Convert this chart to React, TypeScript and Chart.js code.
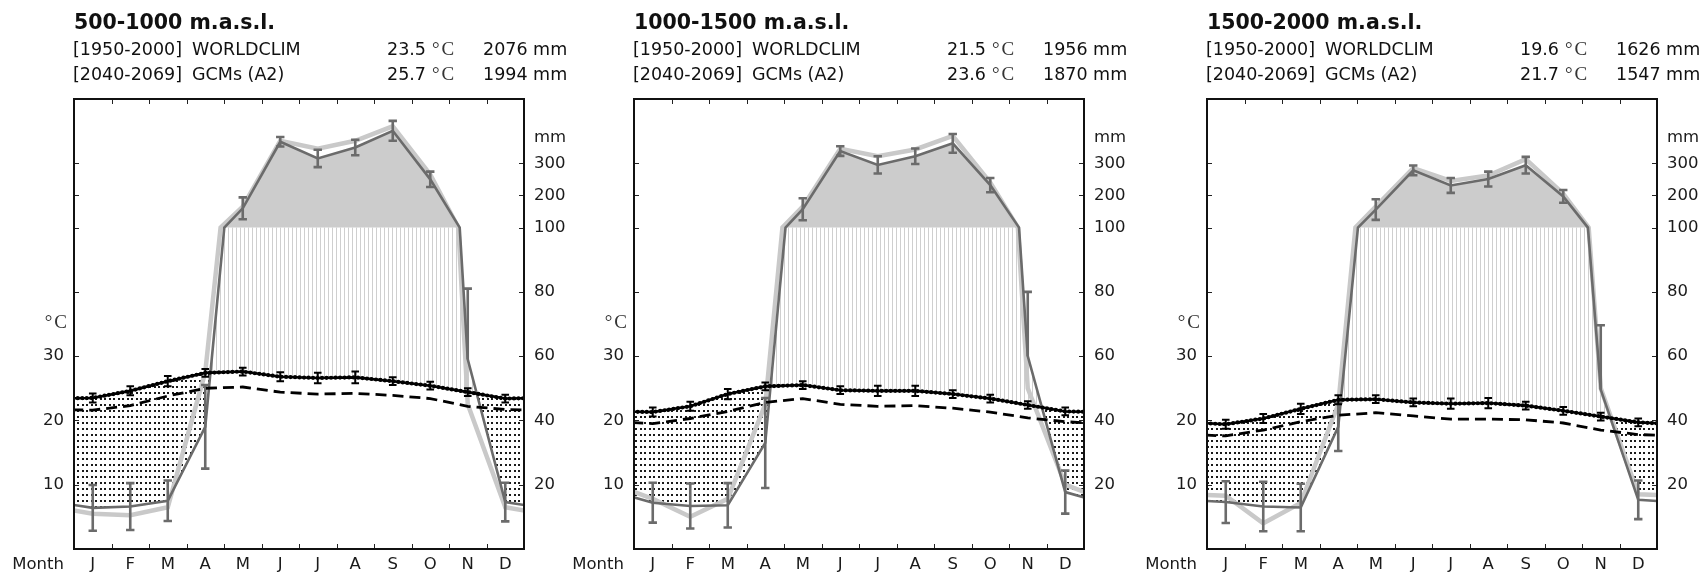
import { useEffect, useRef } from 'react';
import { Chart, registerables } from 'chart.js';

Chart.register(...registerables);

// ---------- text ----------
const MONTH_LABELS = ['J', 'F', 'M', 'A', 'M', 'J', 'J', 'A', 'S', 'O', 'N', 'D'];
const ELEVATION_TITLES = ['500-1000 m.a.s.l.', '1000-1500 m.a.s.l.', '1500-2000 m.a.s.l.'];
const BASE_PERIOD = '[1950-2000]';
const BASE_SOURCE = 'WORLDCLIM';
const FUTURE_PERIOD = '[2040-2069]';
const FUTURE_SOURCE = 'GCMs (A2)';
const BASE_MEAN_TEMP = ['23.5', '21.5', '19.6'];
const FUTURE_MEAN_TEMP = ['25.7', '23.6', '21.7'];
const BASE_ANNUAL_PREC = ['2076 mm', '1956 mm', '1626 mm'];
const FUTURE_ANNUAL_PREC = ['1994 mm', '1870 mm', '1547 mm'];

// ---------- axis ticks ----------
const TEMP_TICKS = [10, 20, 30];
const PREC_TICKS_MM = [20, 40, 60, 80, 100, 200, 300];

// ---------- 500-1000 m ----------
const TEMP_BASE_500 = [21.6, 22.3, 23.8, 25.0, 25.2, 24.4, 24.1, 24.2, 23.9, 23.4, 22.2, 21.7];
const TEMP_GCM_500 = [23.5, 24.6, 26.1, 27.4, 27.6, 26.8, 26.6, 26.7, 26.1, 25.4, 24.4, 23.4];
const TEMP_GCM_SD_500 = [0.7, 0.7, 0.8, 0.6, 0.6, 0.7, 0.8, 0.9, 0.6, 0.6, 0.6, 0.6];
const PREC_BASE_500 = [11, 10.5, 13, 55, 165, 370, 345, 370, 415, 265, 45, 13];
const PREC_GCM_500 = [12.8, 13.2, 15, 38, 160, 367, 315, 349, 401, 250, 59, 14.6];
const PREC_GCM_ERR_UP_500 = [7.1, 7.3, 6.3, 13, 34, 15, 27, 24, 31, 24, 22, 6];
const PREC_GCM_ERR_DOWN_500 = [7.1, 7.3, 6.3, 13, 34, 15, 27, 24, 31, 24, 0, 6];

// ---------- 1000-1500 m ----------
const TEMP_BASE_1000 = [19.5, 20.3, 21.4, 22.8, 23.4, 22.5, 22.2, 22.3, 21.9, 21.3, 20.4, 19.8];
const TEMP_GCM_1000 = [21.3, 22.2, 24.1, 25.3, 25.5, 24.7, 24.6, 24.6, 24.1, 23.4, 22.4, 21.4];
const TEMP_GCM_SD_1000 = [0.7, 0.7, 0.8, 0.6, 0.6, 0.6, 0.8, 0.8, 0.6, 0.6, 0.6, 0.6];
const PREC_BASE_1000 = [15.6, 10, 15.6, 45, 165, 345, 322, 343, 385, 240, 50, 20];
const PREC_GCM_1000 = [14.4, 13.4, 13.6, 33, 157, 338, 295, 322, 362, 232, 60, 17.7];
const PREC_GCM_ERR_UP_1000 = [6.2, 7, 6.9, 14, 34, 15, 27, 24, 29, 22, 20, 6.7];
const PREC_GCM_ERR_DOWN_1000 = [6.2, 7, 6.9, 14, 34, 15, 27, 24, 29, 22, 0, 6.7];

// ---------- 1500-2000 m ----------
const TEMP_BASE_1500 = [17.6, 18.5, 19.8, 20.8, 21.2, 20.7, 20.2, 20.2, 20.1, 19.6, 18.5, 17.8];
const TEMP_GCM_1500 = [19.4, 20.3, 21.8, 23.2, 23.3, 22.8, 22.6, 22.7, 22.3, 21.5, 20.6, 19.7];
const TEMP_GCM_SD_1500 = [0.7, 0.7, 0.8, 0.7, 0.6, 0.6, 0.8, 0.8, 0.6, 0.6, 0.6, 0.6];
const PREC_BASE_1500 = [16.6, 8, 14.3, 45, 165, 285, 245, 262, 313, 205, 50, 17];
const PREC_GCM_1500 = [14.6, 13.2, 12.9, 38, 156, 278, 231, 251, 294, 197, 49.6, 15.3];
const PREC_GCM_ERR_UP_1500 = [6.5, 7.7, 7.4, 7.5, 32, 15, 23, 23, 26, 20, 20, 6];
const PREC_GCM_ERR_DOWN_1500 = [6.5, 7.7, 7.4, 7.5, 32, 15, 23, 23, 26, 20, 0, 6];

// ---------- layout ----------
const W = 1701;
const H = 574;
const PANEL_LEFT = [74, 634, 1207];
const PLOT_TOP = 99;
const PLOT_SIZE = 450;

type Pt = { x: number; y: number };

interface Panel {
  idx: number;
  tempBase: number[];
  tempGcm: number[];
  tempSd: number[];
  precBase: number[];
  precGcm: number[];
  precUp: number[];
  precDown: number[];
}

const PANELS: Panel[] = [
  { idx: 0, tempBase: TEMP_BASE_500, tempGcm: TEMP_GCM_500, tempSd: TEMP_GCM_SD_500, precBase: PREC_BASE_500, precGcm: PREC_GCM_500, precUp: PREC_GCM_ERR_UP_500, precDown: PREC_GCM_ERR_DOWN_500 },
  { idx: 1, tempBase: TEMP_BASE_1000, tempGcm: TEMP_GCM_1000, tempSd: TEMP_GCM_SD_1000, precBase: PREC_BASE_1000, precGcm: PREC_GCM_1000, precUp: PREC_GCM_ERR_UP_1000, precDown: PREC_GCM_ERR_DOWN_1000 },
  { idx: 2, tempBase: TEMP_BASE_1500, tempGcm: TEMP_GCM_1500, tempSd: TEMP_GCM_SD_1500, precBase: PREC_BASE_1500, precGcm: PREC_GCM_1500, precUp: PREC_GCM_ERR_UP_1500, precDown: PREC_GCM_ERR_DOWN_1500 },
];

// Walter-Lieth scale: 10 degC = 20 mm, above 100 mm the scale is compressed 1:10
function precipToUnits(mm: number): number {
  return mm <= 100 ? mm / 2 : 50 + (mm - 100) / 20;
}

function wrapMonths(values: number[]): Pt[] {
  const pts: Pt[] = [{ x: -0.5, y: values[11] }];
  values.forEach((v, i) => pts.push({ x: i + 0.5, y: v }));
  pts.push({ x: 12.5, y: values[0] });
  return pts;
}

function precipLine(mm: number[]): Pt[] {
  const raw = wrapMonths(mm);
  const out: Pt[] = [];
  raw.forEach((p, i) => {
    if (i > 0) {
      const a = raw[i - 1];
      if ((a.y - 100) * (p.y - 100) < 0) {
        const t = (100 - a.y) / (p.y - a.y);
        out.push({ x: a.x + t * (p.x - a.x), y: 100 });
      }
    }
    out.push(p);
  });
  return out.map((q) => ({ x: q.x, y: precipToUnits(q.y) }));
}

function makeHatch(): CanvasPattern {
  const c = document.createElement('canvas');
  c.width = 4;
  c.height = 4;
  const g = c.getContext('2d')!;
  g.fillStyle = '#cfcfcf';
  g.fillRect(0, 0, 1, 4);
  return g.createPattern(c, 'repeat')!;
}

function makeDots(): CanvasPattern {
  const c = document.createElement('canvas');
  c.width = 9;
  c.height = 6;
  const g = c.getContext('2d')!;
  g.fillStyle = '#1a1a1a';
  g.fillRect(1, 2, 2, 2);
  g.fillRect(5, 2, 2, 2);
  return g.createPattern(c, 'repeat')!;
}

function drawErrorBars(
  ctx: CanvasRenderingContext2D,
  xs: any,
  ys: any,
  vals: number[],
  up: number[],
  down: number[],
  toY: (v: number) => number,
  color: string,
  lw: number,
  capHalf: number
) {
  ctx.save();
  ctx.strokeStyle = color;
  ctx.lineWidth = lw;
  ctx.lineCap = 'butt';
  vals.forEach((v, i) => {
    const x = xs.getPixelForValue(i + 0.5);
    const yTop = ys.getPixelForValue(toY(v + up[i]));
    const yBot = ys.getPixelForValue(toY(Math.max(0, v - down[i])));
    ctx.beginPath();
    ctx.moveTo(x, yTop);
    ctx.lineTo(x, yBot);
    ctx.moveTo(x - capHalf, yTop);
    ctx.lineTo(x + capHalf, yTop);
    if (down[i] > 0) {
      ctx.moveTo(x - capHalf, yBot);
      ctx.lineTo(x + capHalf, yBot);
    }
    ctx.stroke();
  });
  ctx.restore();
}

function drawDegC(ctx: CanvasRenderingContext2D, x: number, y: number, align: 'left' | 'right') {
  ctx.save();
  ctx.font = '19px "Liberation Serif"';
  ctx.fillStyle = '#333';
  ctx.textBaseline = 'middle';
  ctx.textAlign = 'left';
  const wDeg = ctx.measureText('°').width;
  const wC = ctx.measureText('C').width;
  const gap = 2;
  const x0 = align === 'left' ? x : x - (wDeg + gap + wC);
  ctx.fillText('°', x0, y);
  ctx.fillText('C', x0 + wDeg + gap, y);
  ctx.restore();
}

function makeDecor(p: Panel) {
  const L = PANEL_LEFT[p.idx];
  return {
    id: 'climateDecor' + p.idx,
    afterDatasetDraw(chart: any, args: any) {
      const ctx = chart.ctx as CanvasRenderingContext2D;
      const xs = chart.scales.x;
      const ys = chart.scales.y;
      if (args.index === 3) {
        drawErrorBars(ctx, xs, ys, p.precGcm, p.precUp, p.precDown, precipToUnits, '#6b6b6b', 2.6, 4.2);
      }
      if (args.index === 6) {
        drawErrorBars(ctx, xs, ys, p.tempGcm, p.tempSd, p.tempSd, (v) => v, '#000', 2, 3.8);
      }
    },
    afterDraw(chart: any) {
      const ctx = chart.ctx as CanvasRenderingContext2D;
      const xs = chart.scales.x;
      const ys = chart.scales.y;
      const a = chart.chartArea;
      const tickUnits = PREC_TICKS_MM.map(precipToUnits);
      ctx.save();
      // inward ticks
      ctx.strokeStyle = '#222';
      ctx.lineWidth = 1;
      ctx.beginPath();
      for (let m = 1; m < 12; m++) {
        const x = Math.round(xs.getPixelForValue(m)) + 0.5;
        ctx.moveTo(x, a.bottom);
        ctx.lineTo(x, a.bottom - 5);
        ctx.moveTo(x, a.top);
        ctx.lineTo(x, a.top + 5);
      }
      tickUnits.forEach((u) => {
        const y = Math.round(ys.getPixelForValue(u)) + 0.5;
        ctx.moveTo(a.left, y);
        ctx.lineTo(a.left + 5, y);
        ctx.moveTo(a.right, y);
        ctx.lineTo(a.right - 5, y);
      });
      ctx.stroke();
      // frame
      ctx.lineWidth = 2;
      ctx.strokeStyle = '#111';
      ctx.strokeRect(a.left, a.top, a.right - a.left, a.bottom - a.top);

      // tick labels
      ctx.fillStyle = '#1a1a1a';
      ctx.font = '16.5px "DejaVu Sans"';
      ctx.textBaseline = 'middle';
      ctx.textAlign = 'right';
      TEMP_TICKS.forEach((t) => ctx.fillText(String(t), a.left - 10, ys.getPixelForValue(t)));
      ctx.fillText('Month', a.left - 10, a.bottom + 16);
      drawDegC(ctx, a.left - 7, ys.getPixelForValue(35.2), 'right');
      ctx.fillStyle = '#1a1a1a';
      ctx.font = '16.5px "DejaVu Sans"';
      ctx.textAlign = 'left';
      PREC_TICKS_MM.forEach((mm) => ctx.fillText(String(mm), a.right + 10, ys.getPixelForValue(precipToUnits(mm))));
      ctx.fillText('mm', a.right + 10, ys.getPixelForValue(63.9));
      ctx.textAlign = 'center';
      MONTH_LABELS.forEach((m, i) => ctx.fillText(m, xs.getPixelForValue(i + 0.5), a.bottom + 16));

      // header
      ctx.fillStyle = '#111';
      ctx.textAlign = 'left';
      ctx.font = 'bold 20.5px "DejaVu Sans"';
      ctx.fillText(ELEVATION_TITLES[p.idx], L, 24);
      const rows = [
        [BASE_PERIOD, BASE_SOURCE, BASE_MEAN_TEMP[p.idx], BASE_ANNUAL_PREC[p.idx], 50],
        [FUTURE_PERIOD, FUTURE_SOURCE, FUTURE_MEAN_TEMP[p.idx], FUTURE_ANNUAL_PREC[p.idx], 75],
      ] as [string, string, string, string, number][];
      rows.forEach(([period, src, temp, prec, y]) => {
        ctx.font = '17.5px "DejaVu Sans"';
        ctx.fillStyle = '#111';
        ctx.textAlign = 'left';
        ctx.fillText(period, L - 1, y);
        ctx.fillText(src, L + 118, y);
        ctx.fillText(temp, L + 313, y);
        ctx.fillText(prec, L + 409, y);
        drawDegC(ctx, L + 358, y, 'left');
      });
      ctx.restore();
    },
  };
}

function buildConfig(p: Panel, hatch: CanvasPattern, dots: CanvasPattern): any {
  const L = PANEL_LEFT[p.idx];
  const precGcm = precipLine(p.precGcm);
  const capped = precGcm.map((q) => ({ x: q.x, y: Math.min(q.y, 50) }));
  const upper = precGcm.map((q) => ({ x: q.x, y: Math.max(q.y, 50) }));
  const base = { pointRadius: 0, clip: 0 };
  return {
    type: 'line',
    data: {
      datasets: [
        { ...base, data: upper, borderWidth: 0, borderColor: 'rgba(0,0,0,0)', backgroundColor: '#cccccc', fill: { target: { value: 50 } }, order: 10 },
        { ...base, data: capped, borderWidth: 0, borderColor: 'rgba(0,0,0,0)', fill: { target: 5, above: hatch, below: dots }, order: 9 },
        { ...base, data: precipLine(p.precBase), borderColor: '#c9c9c9', borderWidth: 4.5, fill: false, order: 8 },
        { ...base, data: precGcm, borderColor: '#6b6b6b', borderWidth: 2.6, fill: false, order: 7 },
        { ...base, data: wrapMonths(p.tempBase), borderColor: '#000', borderWidth: 2.8, borderDash: [11, 6], fill: false, order: 6 },
        { ...base, data: wrapMonths(p.tempGcm), borderColor: '#000', borderWidth: 2.6, fill: false, order: 5 },
        { ...base, data: wrapMonths(p.tempGcm), borderColor: '#000', borderWidth: 4.2, borderDash: [0, 4.5], borderCapStyle: 'round', fill: false, order: 4 },
      ],
    },
    options: {
      responsive: false,
      animation: false,
      devicePixelRatio: 1,
      events: [],
      layout: { padding: { left: L, top: PLOT_TOP, right: W - L - PLOT_SIZE, bottom: H - PLOT_TOP - PLOT_SIZE } },
      plugins: { legend: { display: false }, tooltip: { enabled: false }, filler: { propagate: false } },
      scales: {
        x: { type: 'linear', min: 0, max: 12, display: false },
        y: { type: 'linear', min: 0, max: 70, display: false },
      },
    },
    plugins: [makeDecor(p)],
  };
}

export default function App() {
  const r0 = useRef<HTMLCanvasElement>(null);
  const r1 = useRef<HTMLCanvasElement>(null);
  const r2 = useRef<HTMLCanvasElement>(null);
  useEffect(() => {
    const hatch = makeHatch();
    const dots = makeDots();
    const refs = [r0, r1, r2];
    const charts = PANELS.map((p, i) => new Chart(refs[i].current!, buildConfig(p, hatch, dots)));
    return () => charts.forEach((c) => c.destroy());
  }, []);
  return (
    <div style={{ position: 'absolute', left: 0, top: 0, width: W, height: H, background: '#fff', overflow: 'hidden' }}>
      {[r0, r1, r2].map((r, i) => (
        <canvas key={i} ref={r} width={W} height={H} style={{ position: 'absolute', left: 0, top: 0 }} />
      ))}
    </div>
  );
}
